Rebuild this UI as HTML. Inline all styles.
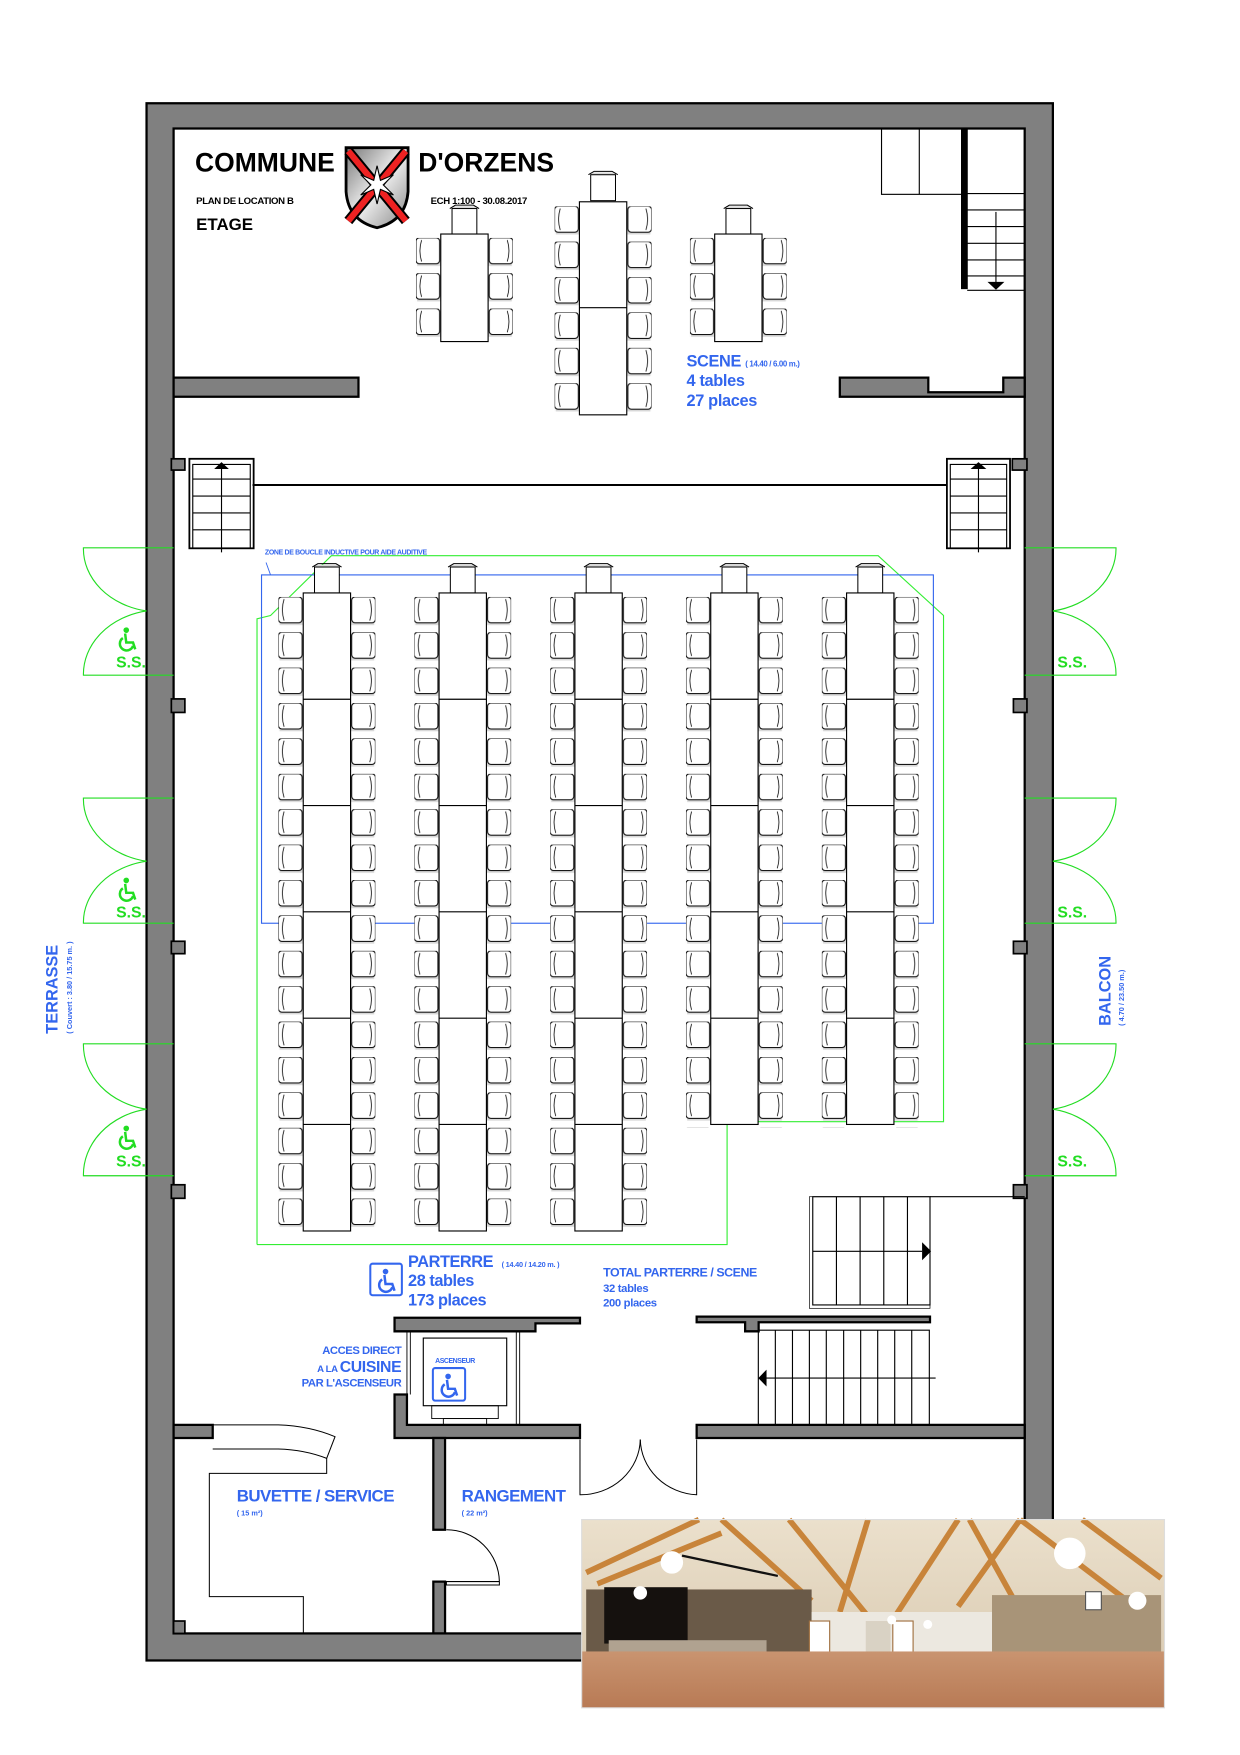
<!DOCTYPE html>
<html><head><meta charset="utf-8"><style>
html,body{margin:0;padding:0;background:#fff;}
svg{display:block;}
text{font-family:"Liberation Sans",Arial,sans-serif;font-weight:bold;}
.b{fill:#3366ee;}
.g{fill:#22dd22;}
</style></head><body>
<svg width="1240" height="1755" viewBox="0 0 1100 1556.85" preserveAspectRatio="none" xmlns="http://www.w3.org/2000/svg">
<defs>
<pattern id="pl" patternUnits="userSpaceOnUse" x="0" y="0" width="22" height="31.4">
 <rect x="1" y="1" width="21" height="24" fill="#d8d8d8"/>
 <rect x="0" y="0" width="21" height="23" rx="3" fill="#fff" stroke="#000" stroke-width="0.9"/>
 <path d="M5,2 q-3,9.5 0,19" fill="none" stroke="#000" stroke-width="0.7"/>
</pattern>
<pattern id="pr" patternUnits="userSpaceOnUse" x="0" y="0" width="22" height="31.4">
 <rect x="0" y="1" width="21" height="24" fill="#d8d8d8"/>
 <rect x="1" y="0" width="21" height="23" rx="3" fill="#fff" stroke="#000" stroke-width="0.9"/>
 <path d="M17,2 q3,9.5 0,19" fill="none" stroke="#000" stroke-width="0.7"/>
</pattern>
<g id="hc">
 <rect x="-11" y="1" width="22" height="25" fill="#d8d8d8"/>
 <rect x="-11" y="3" width="22" height="23" fill="#fff" stroke="#000" stroke-width="0.9"/>
 <path d="M-13,3 L-8,0 L8,0 L13,3" fill="none" stroke="#000" stroke-width="0.9"/>
</g>
<g id="wc">
 <circle cx="2" cy="-9" r="2"/>
 <path d="M1,-6 L2,2 L8,2 L10,8" fill="none" stroke-width="2.2"/>
 <path d="M-1,-2 A6,6 0 1 0 8,5" fill="none" stroke-width="2.2"/>
</g>
<linearGradient id="sh" x1="0" y1="0" x2="1" y2="1">
 <stop offset="0" stop-color="#777"/><stop offset=".5" stop-color="#eee"/><stop offset="1" stop-color="#888"/>
</linearGradient>
<linearGradient id="ceil" x1="0" y1="0" x2="0" y2="1">
 <stop offset="0" stop-color="#ebe0cc"/><stop offset="1" stop-color="#d6c6ac"/>
</linearGradient>
<linearGradient id="floor" x1="0" y1="0" x2="0" y2="1">
 <stop offset="0" stop-color="#c99470"/><stop offset="1" stop-color="#b87a55"/>
</linearGradient>
</defs>

<rect x="130" y="91.6" width="804" height="1381.4" fill="#808080" stroke="#000" stroke-width="2"/>
<rect x="154" y="114" width="755" height="1335" fill="#fff" stroke="#000" stroke-width="2"/>
<g fill="#808080" stroke="#000" stroke-width="1.5">
 <rect x="152" y="407" width="12" height="10"/><rect x="152" y="620" width="12" height="12"/>
 <rect x="152" y="835" width="12" height="11"/><rect x="152" y="1051" width="12" height="12"/>
 <rect x="898" y="407" width="13" height="10"/><rect x="899" y="620" width="12" height="12"/>
 <rect x="899" y="835" width="12" height="11"/><rect x="899" y="1051" width="12" height="12"/>
</g>

<text x="173" y="152" font-size="23.5">COMMUNE</text>
<text x="371" y="152" font-size="23.5">D'ORZENS</text>
<text x="174" y="181" font-size="8.5" letter-spacing="-0.3">PLAN DE LOCATION B</text>
<text x="174" y="204" font-size="15">ETAGE</text>
<text x="382" y="181" font-size="8.5" letter-spacing="-0.3">ECH 1:100  - 30.08.2017</text>
<path d="M307,131 L362,131 L362,170 Q360,196 334.5,202 Q309,196 307,170 Z" fill="url(#sh)" stroke="#000" stroke-width="2.5"/>
<path d="M309,134 L360,196 M360,134 L309,196" stroke="#000" stroke-width="9"/>
<path d="M309,134 L360,196 M360,134 L309,196" stroke="#ee2222" stroke-width="5.5"/>
<path d="M334.5,147 L337.5,160 L349,155 L340,164 L349,173 L337.5,168 L334.5,181 L331.5,168 L320,173 L329,164 L320,155 L331.5,160 Z" fill="#fff" stroke="#000" stroke-width="1"/>

<g fill="none" stroke="#000" stroke-width="1">
 <rect x="782" y="114" width="71" height="58.4"/><line x1="815.5" y1="114" x2="815.5" y2="172.4"/>
 <rect x="853" y="114" width="5" height="142" fill="#000"/>
 <path d="M858,171.7H909M858,186.2H909M858,201H909M858,215.8H909M858,230.6H909M858,244.8H909M858,257.5H909"/>
 <line x1="883.5" y1="188" x2="883.5" y2="255"/>
</g>
<path d="M876,250 L891,250 L883.5,257 Z"/>

<path d="M154,335 H318 V352 H154 Z" fill="#808080" stroke="#000" stroke-width="2"/>
<path d="M745,335 H823.5 V348 H890 V335 H909 V352 H745 Z" fill="#808080" stroke="#000" stroke-width="2"/>
<line x1="224" y1="430.2" x2="840" y2="430.2" stroke="#000" stroke-width="1.8"/>
<g fill="none" stroke="#000" stroke-width="1">
 <rect x="168" y="407" width="57" height="79.4" stroke-width="1.6"/>
 <rect x="171" y="412" width="51" height="74.4"/>
 <path d="M171,425H222M171,440H222M171,455H222M171,470H222"/>
 <line x1="196.5" y1="412" x2="196.5" y2="490"/>
 <rect x="840" y="407" width="56" height="79.4" stroke-width="1.6"/>
 <rect x="843" y="412" width="50" height="74.4"/>
 <path d="M843,425H893M843,440H893M843,455H893M843,470H893"/>
 <line x1="868" y1="412" x2="868" y2="490"/>
</g>
<path d="M190,416 L203,416 L196.5,410 Z"/><path d="M861,416 L875,416 L868,410 Z"/>

<!-- scene tables -->
<use href="#hc" x="412" y="182"/>
<g transform="translate(369,211)"><rect width="22" height="94" fill="url(#pl)"/></g>
<g transform="translate(433,211)"><rect width="22" height="94" fill="url(#pr)"/></g>
<rect x="391" y="207.6" width="42" height="95.4" fill="#fff" stroke="#000" stroke-width="1"/>

<use href="#hc" x="535" y="152"/>
<g transform="translate(492,183)"><rect width="22" height="188" fill="url(#pl)"/></g>
<g transform="translate(556,183)"><rect width="22" height="188" fill="url(#pr)"/></g>
<rect x="514" y="179" width="42" height="189" fill="#fff" stroke="#000" stroke-width="1"/>
<line x1="514" y1="273" x2="556" y2="273" stroke="#000"/>

<use href="#hc" x="655" y="182"/>
<g transform="translate(612,211)"><rect width="22" height="94" fill="url(#pl)"/></g>
<g transform="translate(676,211)"><rect width="22" height="94" fill="url(#pr)"/></g>
<rect x="634" y="207.6" width="42" height="95.4" fill="#fff" stroke="#000" stroke-width="1"/>

<text x="609" y="325.3" font-size="14.5" class="b" letter-spacing="-0.3">SCENE <tspan font-size="7">( 14.40 / 6.00 m.)</tspan></text>
<text x="609" y="342.4" font-size="14.5" class="b" letter-spacing="-0.3">4 tables</text>
<text x="609" y="360" font-size="14.5" class="b" letter-spacing="-0.3">27 places</text>

<polyline points="228,1104 228,549 240,546 294,493 779,493 837,546 837,995 645,995 645,1104 228,1104" fill="none" stroke="#33ee33" stroke-width="1"/>
<rect x="232" y="510" width="596" height="309" fill="none" stroke="#3366ee" stroke-width="1"/>
<line x1="236" y1="499" x2="240" y2="510" stroke="#3366ee" stroke-width="0.8"/>
<text x="235" y="492" font-size="6.2" class="b" letter-spacing="-0.3">ZONE DE BOUCLE INDUCTIVE POUR AIDE AUDITIVE</text>

<g id="col1">
 <use href="#hc" x="290" y="500"/>
 <g transform="translate(247,529.5)"><rect width="22" height="565" fill="url(#pl)"/></g>
 <g transform="translate(311,529.5)"><rect width="22" height="565" fill="url(#pr)"/></g>
 <rect x="269" y="526" width="42" height="566" fill="#fff" stroke="#000"/>
 <path d="M269,620.3H311M269,714.6H311M269,808.9H311M269,903.2H311M269,997.5H311" stroke="#000"/>
</g>
<use href="#col1" x="120.5"/>
<use href="#col1" x="241"/>
<g id="col4">
 <use href="#hc" x="651.5" y="500"/>
 <g transform="translate(608.5,529.5)"><rect width="22" height="471" fill="url(#pl)"/></g>
 <g transform="translate(672.5,529.5)"><rect width="22" height="471" fill="url(#pr)"/></g>
 <rect x="630.5" y="526" width="42" height="471.5" fill="#fff" stroke="#000"/>
 <path d="M630.5,620.3H672.5M630.5,714.6H672.5M630.5,808.9H672.5M630.5,903.2H672.5" stroke="#000"/>
</g>
<use href="#col4" x="120.5"/>

<g fill="none" stroke="#22dd22" stroke-width="1">
 <path d="M154,486 H74 A68,56 0 0 0 130,542 M130,542 A68,57 0 0 0 74,599 H154"/>
 <path d="M154,708 H74 A68,56 0 0 0 130,764 M130,764 A68,55 0 0 0 74,819 H154"/>
 <path d="M154,926 H74 A68,58 0 0 0 130,984 M130,984 A68,59 0 0 0 74,1043 H154"/>
 <path d="M909,486 H990 A68,56 0 0 1 934,542 M934,542 A68,57 0 0 1 990,599 H909"/>
 <path d="M909,708 H990 A68,56 0 0 1 934,764 M934,764 A68,55 0 0 1 990,819 H909"/>
 <path d="M909,926 H990 A68,58 0 0 1 934,984 M934,984 A68,59 0 0 1 990,1043 H909"/>
</g>
<g fill="#22dd22" stroke="#22dd22">
 <use href="#wc" x="110" y="568"/><use href="#wc" x="110" y="790"/><use href="#wc" x="110" y="1010"/>
</g>
<text x="103" y="592" font-size="14" class="g">S.S.</text>
<text x="103" y="814" font-size="14" class="g">S.S.</text>
<text x="103" y="1035" font-size="14" class="g">S.S.</text>
<text x="938" y="592" font-size="14" class="g">S.S.</text>
<text x="938" y="814" font-size="14" class="g">S.S.</text>
<text x="938" y="1035" font-size="14" class="g">S.S.</text>

<text transform="translate(51,917) rotate(-90)" font-size="14.5" class="b">TERRASSE</text>
<text transform="translate(64,917) rotate(-90)" font-size="6.5" class="b">( Couvert : 3.80 / 15.75 m. )</text>
<text transform="translate(985,910) rotate(-90)" font-size="14.5" class="b">BALCON</text>
<text transform="translate(997,910) rotate(-90)" font-size="6.5" class="b">( 4.70 / 23.50 m.)</text>

<g fill="none" stroke="#000" stroke-width="1">
 <line x1="825" y1="1061.6" x2="909" y2="1061.6"/>
 <rect x="721" y="1061.6" width="104" height="96"/>
 <rect x="718" y="1061.6" width="107" height="99" stroke-width="0.6"/>
 <path d="M742,1061.6V1157.6M763,1061.6V1157.6M784,1061.6V1157.6M805,1061.6V1157.6"/>
 <line x1="721" y1="1110" x2="818" y2="1110"/>
 <rect x="672.7" y="1180" width="151.7" height="84"/>
 <path d="M687.8,1180V1264M703,1180V1264M718,1180V1264M733,1180V1264M748.4,1180V1264M763.5,1180V1264M778.6,1180V1264M793.7,1180V1264M808.8,1180V1264"/>
 <line x1="676" y1="1222.5" x2="830" y2="1222.5"/>
</g>
<path d="M818,1102 L826,1110 L818,1118 Z"/>
<path d="M680,1215 L672.7,1222.5 L680,1230 Z"/>

<rect x="328.5" y="1121" width="28" height="28" rx="2" fill="#fff" stroke="#3366ee" stroke-width="1.8"/>
<g fill="#3366ee" stroke="#3366ee"><use href="#wc" x="340" y="1137"/></g>
<text x="362" y="1124" font-size="14.5" class="b" letter-spacing="-0.4">PARTERRE <tspan font-size="6.5" dx="4" letter-spacing="-0.2">( 14.40 / 14.20 m. )</tspan></text>
<text x="362" y="1141" font-size="14.5" class="b" letter-spacing="-0.4">28 tables</text>
<text x="362" y="1158" font-size="14.5" class="b" letter-spacing="-0.4">173 places</text>
<text x="535" y="1132.5" font-size="11" class="b" letter-spacing="-0.4">TOTAL PARTERRE / SCENE</text>
<text x="535" y="1146" font-size="10" class="b" letter-spacing="-0.3">32 tables</text>
<text x="535" y="1159" font-size="10" class="b" letter-spacing="-0.3">200 places</text>

<path d="M350,1169 H514.5 V1174 H475 V1181 H361 V1181 H350 Z" fill="#808080" stroke="#000" stroke-width="2"/>
<path d="M618,1168 H825 V1173 H673 V1181 H661 V1173 H618 Z" fill="#808080" stroke="#000" stroke-width="2"/>
<path d="M350,1237 H361 V1264 H514.5 V1275.6 H350 Z" fill="#808080" stroke="#000" stroke-width="2"/>
<path d="M154,1264 H188.7 V1275.6 H154 Z" fill="#808080" stroke="#000" stroke-width="2"/>
<path d="M618,1264 H909 V1275.6 H618 Z" fill="#808080" stroke="#000" stroke-width="2"/>
<g fill="none" stroke="#000" stroke-width="0.8">
 <path d="M361,1181 V1237 M364,1181 V1237"/>
 <path d="M458,1181 V1264 M461,1181 V1264"/>
 <rect x="375.5" y="1187" width="74" height="60" fill="#fff" stroke-width="1"/>
 <rect x="383" y="1247" width="59" height="11.4"/>
 <rect x="393.3" y="1258.4" width="38.4" height="5.6"/>
</g>
<text x="386" y="1209" font-size="6.2" class="b" letter-spacing="-0.4">ASCENSEUR</text>
<rect x="384" y="1213.6" width="28.6" height="28.9" rx="2" fill="#fff" stroke="#3366ee" stroke-width="1.8"/>
<g fill="#3366ee" stroke="#3366ee"><use href="#wc" x="395.5" y="1230"/></g>
<text x="356" y="1201" font-size="10" class="b" text-anchor="end" letter-spacing="-0.4">ACCES DIRECT</text>
<text x="356" y="1217" font-size="8.5" class="b" text-anchor="end"><tspan letter-spacing="-0.3">A LA </tspan><tspan font-size="14" letter-spacing="-0.3">CUISINE</tspan></text>
<text x="356" y="1230" font-size="10" class="b" text-anchor="end" letter-spacing="-0.4">PAR L'ASCENSEUR</text>

<path d="M384.4,1275.6 H394.8 V1357 H384.4 Z M384.4,1403 H394.8 V1449 H384.4 Z" fill="#808080" stroke="#000" stroke-width="2"/>
<rect x="154" y="1438" width="10" height="11" fill="#808080" stroke="#000" stroke-width="1.5"/>
<g fill="none" stroke="#000" stroke-width="0.9">
 <path d="M188.7,1264 H246.9 Q275,1265 297.2,1274.5 L289.8,1293.7 Q270,1286 246.9,1285.4 H188.7"/>
 <path d="M289.8,1293.7 V1307 H185.7 V1416.4 H269.1 V1449"/>
 <path d="M396,1357 A47,47 0 0 1 443,1403 H396 V1406 H443 V1403"/>
 <path d="M514.5,1277 V1326 A53,50 0 0 0 568,1277"/>
 <path d="M618,1277 V1326 A53,50 0 0 1 568,1277"/>
</g>
<text x="210" y="1332" font-size="15" class="b" letter-spacing="-0.5">BUVETTE / SERVICE</text>
<text x="210" y="1344.5" font-size="6.5" class="b">( 15 m²)</text>
<text x="409.5" y="1332" font-size="15" class="b" letter-spacing="-0.5">RANGEMENT</text>
<text x="409.5" y="1344.5" font-size="6.5" class="b">( 22 m²)</text>

<!-- photo -->
<g>
 <rect x="516" y="1348" width="517" height="167" fill="url(#ceil)"/>
 <g stroke="#c8843a" stroke-width="5" fill="none">
  <path d="M520,1395 L620,1348 M640,1348 L720,1420 M700,1348 L775,1440 M770,1348 L745,1430 M850,1348 L790,1440 M860,1348 L900,1420 M905,1348 L850,1425 M960,1348 L1030,1400 M530,1405 L640,1360 M905,1348 L1000,1420"/>
 </g>
 <rect x="520" y="1410" width="200" height="58" fill="#6a5a48"/>
 <rect x="536" y="1408" width="74" height="50" fill="#15110e"/>
 <rect x="540" y="1455" width="140" height="12" fill="#b0a290"/>
 <rect x="720" y="1430" width="300" height="42" fill="#ece8e0"/>
 <rect x="880" y="1415" width="150" height="55" fill="#a89478"/>
 <rect x="718" y="1438" width="18" height="32" fill="#fff" stroke="#a07040"/>
 <rect x="792" y="1438" width="18" height="32" fill="#fff" stroke="#a07040"/>
 <rect x="768" y="1438" width="22" height="32" fill="#d9d2c4"/>
 <rect x="516" y="1465" width="517" height="50" fill="url(#floor)"/>
 <circle cx="596" cy="1386" r="10" fill="#fff"/><circle cx="568" cy="1413" r="6" fill="#fff"/>
 <circle cx="949" cy="1378" r="14" fill="#fff"/><circle cx="1009" cy="1420" r="8" fill="#fff"/>
 <circle cx="791" cy="1437" r="4" fill="#fff"/><circle cx="823" cy="1441" r="4" fill="#fff"/>
 <path d="M605,1380 L690,1398" stroke="#111" stroke-width="2"/>
 <rect x="963" y="1412" width="14" height="16" fill="#fff" stroke="#555"/>
 <rect x="516" y="1348" width="517" height="167" fill="none" stroke="#ddd" stroke-width="1"/>
</g>
</svg>
</body></html>
